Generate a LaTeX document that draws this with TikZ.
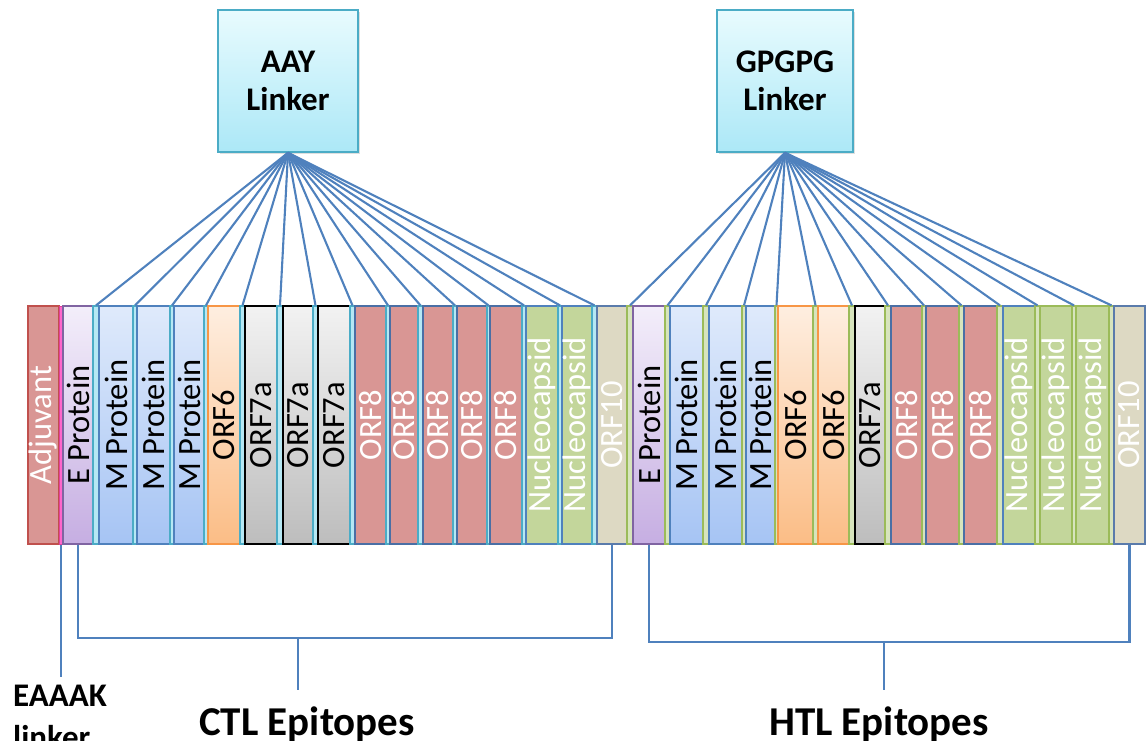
\documentclass[tikz,border=0pt]{standalone}
\usepackage{fontspec}
\setmainfont{Carlito}
\usetikzlibrary{shadows}
\definecolor{connc}{HTML}{4F81BD}
\definecolor{adjfill}{HTML}{D99694}
\definecolor{adjdraw}{HTML}{C0504D}
\definecolor{etop}{HTML}{F3EEFA}
\definecolor{ebot}{HTML}{C6AEE2}
\definecolor{edraw}{HTML}{8064A2}
\definecolor{mtop}{HTML}{DFEAFB}
\definecolor{mbot}{HTML}{A6C4F4}
\definecolor{mdraw}{HTML}{4F81BD}
\definecolor{sixtop}{HTML}{FEEEE0}
\definecolor{sixbot}{HTML}{FBBD86}
\definecolor{sixdraw}{HTML}{F79646}
\definecolor{sevtop}{HTML}{F2F2F2}
\definecolor{sevbot}{HTML}{BDBDBD}
\definecolor{eightdraw}{HTML}{4A6FA5}
\definecolor{nucfill}{HTML}{C3D69B}
\definecolor{ogreen}{HTML}{9BBB59}
\definecolor{tenfill}{HTML}{DDD9C3}
\definecolor{tendraw}{HTML}{5A7BAB}
\definecolor{cyanfill}{HTML}{B6E8F4}
\definecolor{cyandraw}{HTML}{4BACC6}
\definecolor{greenfill}{HTML}{D7E4BD}
\definecolor{pinkfill}{HTML}{FF66CC}
\definecolor{pinkdraw}{HTML}{E0409A}
\definecolor{lktop}{HTML}{E8FBFE}
\definecolor{lkbot}{HTML}{ACE8F7}
\tikzset{
  blkbase/.style={rectangle, inner sep=0pt, minimum height=238pt, line width=1.5pt,
    font=\fontsize{32.5}{38}\selectfont},
  adjs/.style={blkbase, fill=adjfill, draw=adjdraw, text=white},
  pinks/.style={blkbase, fill=pinkfill, draw=pinkdraw, line width=1pt},
  eprot/.style={blkbase, top color=etop, bottom color=ebot, draw=edraw},
  mprot/.style={blkbase, top color=mtop, bottom color=mbot, draw=mdraw},
  orfsix/.style={blkbase, top color=sixtop, bottom color=sixbot, draw=sixdraw},
  orfseven/.style={blkbase, top color=sevtop, bottom color=sevbot, draw=black},
  orfeight/.style={blkbase, fill=adjfill, draw=eightdraw, text=white},
  nuc/.style={blkbase, fill=nucfill, draw=connc, text=white},
  orften/.style={blkbase, fill=tenfill, draw=tendraw, text=white},
  cyans/.style={blkbase, fill=cyanfill, draw=cyandraw, line width=1.2pt},
  greens/.style={blkbase, fill=greenfill, draw=ogreen, line width=1.2pt},
  linkbox/.style={rectangle, top color=lktop, bottom color=lkbot, draw=cyandraw,
    line width=1.5pt, minimum height=142pt, align=center, inner sep=0pt,
    font=\bfseries\fontsize{33}{38}\selectfont,
    drop shadow={opacity=0.25, shadow xshift=2pt, shadow yshift=-2pt}},
  conn/.style={draw=connc, line width=2.1pt},
  lbl/.style={inner sep=0pt, font=\bfseries\fontsize{41}{48}\selectfont},
}
\newcommand{\blk}[5]{%
  \pgfmathsetmacro{\myBW}{#3-#2}\pgfmathsetmacro{\myBC}{(#2+#3)/2}%
  \node[#4, minimum width=\myBW pt] (#1) at (\myBC,425) {\makebox[0pt]{\rotatebox{90}{#5}}};}
\begin{document}
\begin{tikzpicture}[x=1pt,y=-1pt]
\useasboundingbox (0,0) rectangle (1147,740);
% CTL part
\blk{adj}{28}{59}{adjs}{Adjuvant}
\blk{eaaak}{59}{63}{pinks}{}
\blk{cE}{63}{93}{eprot}{E Protein}
\blk{s1}{93}{99}{cyans}{}
\blk{cMa}{99}{133}{mprot}{M Protein}
\blk{s2}{133}{137}{cyans}{}
\blk{cMb}{137}{170}{mprot}{M Protein}
\blk{s3}{170}{174}{cyans}{}
\blk{cMc}{174}{204}{mprot}{M Protein}
\blk{s4}{204}{208}{cyans}{}
\blk{csix}{208}{240}{orfsix}{ORF6}
\blk{s5}{240}{245}{cyans}{}
\blk{csa}{245}{277}{orfseven}{ORF7a}
\blk{s6}{277}{283}{cyans}{}
\blk{csb}{283}{313}{orfseven}{ORF7a}
\blk{s7}{313}{318}{cyans}{}
\blk{csc}{318}{350}{orfseven}{ORF7a}
\blk{s8}{350}{355}{cyans}{}
\blk{cea}{355}{386}{orfeight}{ORF8}
\blk{s9}{386}{390}{cyans}{}
\blk{ceb}{390}{418}{orfeight}{ORF8}
\blk{s10}{418}{423}{cyans}{}
\blk{cec}{423}{453}{orfeight}{ORF8}
\blk{s11}{453}{457}{cyans}{}
\blk{ced}{457}{487}{orfeight}{ORF8}
\blk{s12}{487}{490}{cyans}{}
\blk{cee}{490}{522}{orfeight}{ORF8}
\blk{s13}{522}{526}{cyans}{}
\blk{cNa}{526}{558}{nuc}{Nucleocapsid}
\blk{s14}{558}{562}{cyans}{}
\blk{cNb}{562}{592}{nuc}{Nucleocapsid}
\blk{s15}{592}{597}{cyans}{}
\blk{cten}{597}{627}{orften}{ORF10}
% HTL part
\blk{g1}{627}{633}{greens}{}
\blk{hE}{633}{665}{eprot}{E Protein}
\blk{g2}{665}{670}{greens}{}
\blk{hMa}{670}{703}{mprot}{M Protein}
\blk{g3}{703}{709}{greens}{}
\blk{hMb}{709}{742}{mprot}{M Protein}
\blk{g4}{742}{746}{greens}{}
\blk{hMc}{746}{775}{mprot}{M Protein}
\blk{g5}{775}{778}{greens}{}
\blk{hsixa}{778}{813}{orfsix}{ORF6}
\blk{g6}{813}{818}{greens}{}
\blk{hsixb}{818}{849}{orfsix}{ORF6}
\blk{g7}{849}{855}{greens}{}
\blk{hsev}{855}{885}{orfseven}{ORF7a}
\blk{g8}{885}{891}{greens}{}
\blk{hea}{891}{922}{orfeight}{ORF8}
\blk{g9}{922}{926}{greens}{}
\blk{heb}{926}{959}{orfeight}{ORF8}
\blk{g10}{959}{964}{greens}{}
\blk{hec}{964}{997}{orfeight}{ORF8}
\blk{g11}{997}{1003}{greens}{}
\blk{hNa}{1003}{1035}{nuc}{Nucleocapsid}
\blk{g12}{1035}{1040}{greens}{}
\blk{hNb}{1040}{1072}{nuc, draw=ogreen}{Nucleocapsid}
\blk{g13}{1072}{1076}{greens}{}
\blk{hNc}{1076}{1109}{nuc, draw=ogreen}{Nucleocapsid}
\blk{g14}{1109}{1114}{greens}{}
\blk{hten}{1114}{1145}{orften}{ORF10}
% linker boxes
\node[linkbox, minimum width=140pt] (aay) at (288,81) {AAY\\Linker};
\node[linkbox, minimum width=136pt] (gpg) at (785,81) {GPGPG\\Linker};
% fans
\foreach \i in {1,...,15} \draw[conn] (aay.south) -- (s\i.north);
\foreach \i in {1,...,14} \draw[conn] (gpg.south) -- (g\i.north);
% brackets
\coordinate (ctlj) at (298,638);
\coordinate (ctlend) at (298,690);
\coordinate (htlj) at (884,642);
\coordinate (htlend) at (884,690);
\coordinate (eaaakend) at (61,677);
\draw[conn] (cE.south) |- (ctlj) -| (cten.south);
\draw[conn] (ctlj) -- (ctlend);
\draw[conn] (hE.south) |- (htlj) -| (hten.south);
\draw[conn] (htlj) -- (htlend);
\draw[conn] (eaaak.south) -- (eaaakend);
% labels
\node[lbl, anchor=base] (ctlt) at (307,735) {CTL Epitopes};
\node[lbl, anchor=base] (htlt) at (879,735) {HTL Epitopes};
\node[anchor=north west, align=left, inner sep=0pt,
  font=\bfseries\fontsize{33}{42}\selectfont] (eaaakt) at (13,685) {EAAAK\\linker};
\end{tikzpicture}
\end{document}
